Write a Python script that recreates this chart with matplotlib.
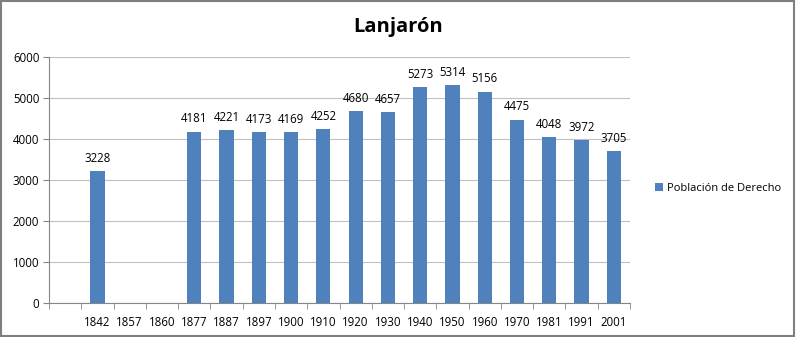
import matplotlib
matplotlib.use("Agg")
import matplotlib.pyplot as plt
import numpy as np

years = ["1842", "1857", "1860", "1877", "1887", "1897", "1900", "1910", "1920",
         "1930", "1940", "1950", "1960", "1970", "1981", "1991", "2001"]
values = [3228, None, None, 4181, 4221, 4173, 4169, 4252, 4680,
          4657, 5273, 5314, 5156, 4475, 4048, 3972, 3705]
series_name = "Población de Derecho"
title = "Lanjarón"

plt.rcParams['font.family'] = ['Open Sans', 'DejaVu Sans']

fig = plt.figure(figsize=(7.96, 3.37), dpi=100)
ax = fig.add_axes([49/796, 1-303/337, (630-49)/796, (303-57)/337])

x = np.arange(len(years))
h = [v if v is not None else 0 for v in values]
bars = ax.bar(x, h, width=0.44, color="#4F81BD", label=series_name, zorder=3)
for xi, v in zip(x, values):
    if v is not None:
        ax.text(xi, v + 150, str(v), ha="center", va="bottom", fontsize=8.3, color="#000000")

ax.set_xlim(-1.5, len(years) - 0.5)
ax.set_ylim(0, 6000)
ax.set_yticks(range(0, 6001, 1000))
ax.tick_params(axis='y', labelsize=8.3, length=4, color="#868686", pad=3)
ax.set_xticks(x)
ax.set_xticklabels(years)
ax.set_xticks(np.arange(-1.5, len(years), 1.0), minor=True)
ax.tick_params(axis='x', which='major', length=0, labelsize=8.3, pad=9)
ax.tick_params(axis='x', which='minor', length=4, color="#868686")
ax.grid(axis='y', color="#C0C0C0", linewidth=0.8, zorder=0)
for s in ["top", "right"]:
    ax.spines[s].set_visible(False)
for s in ["left", "bottom"]:
    ax.spines[s].set_color("#868686")

fig.text(398/796, 1-27/337, title, ha="center", va="center", fontsize=14.5, fontweight="bold")

fig.legend(handles=[bars], labels=[series_name], loc="center left",
           bbox_to_anchor=(645/796, 1-188/337), frameon=False, fontsize=8,
           handlelength=0.7, handleheight=0.7, handletextpad=0.4)

border = plt.Rectangle((0.001, 0.002), 0.997, 0.995, transform=fig.transFigure,
                       fill=False, edgecolor="#7F7F7F", linewidth=1.5)
fig.add_artist(border)

fig.savefig("out.png", dpi=100)
